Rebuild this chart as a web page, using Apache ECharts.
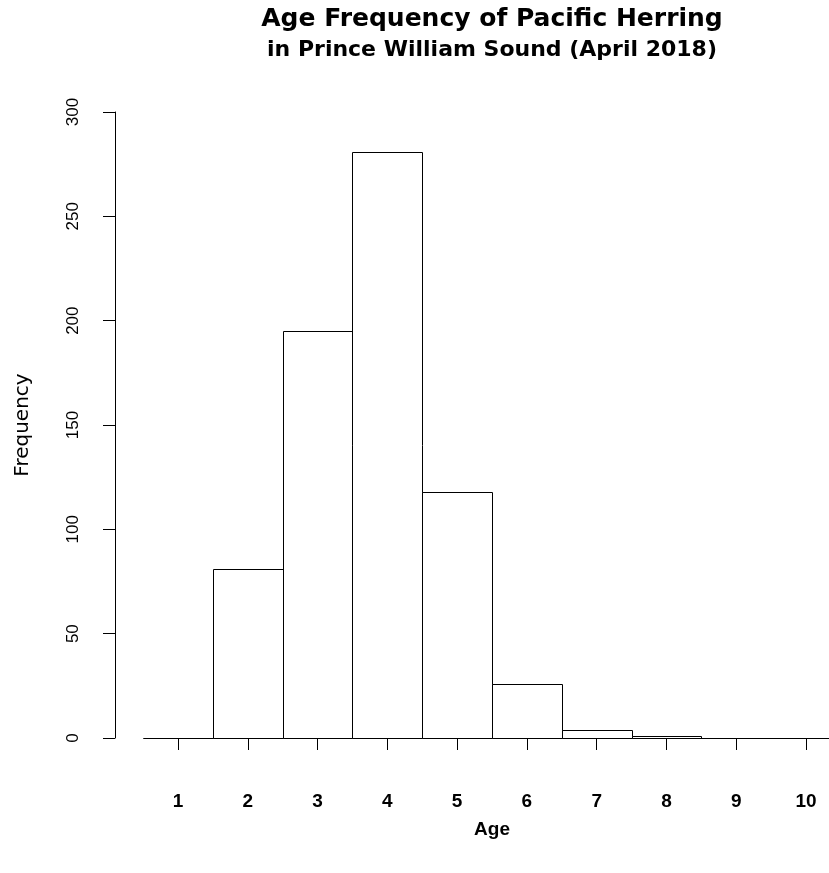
<!DOCTYPE html>
<html>
<head>
<meta charset="utf-8">
<script src="https://cdn.jsdelivr.net/npm/echarts@6/dist/echarts.min.js"></script>
<style>
  html, body { margin: 0; padding: 0; background: #fff; }
  #chart { width: 829px; height: 873px; }
</style>
</head>
<body>
<div id="chart"></div>
<script>
// histogram bins, one per age, width 1
const ages = [1, 2, 3, 4, 5, 6, 7, 8, 9, 10];
const frequency = [0, 81, 195, 281, 118, 26, 4, 1, 0, 0];
const yTicks = [0, 50, 100, 150, 200, 250, 300];

const titleLines = ["Age Frequency of Pacific Herring", "in Prince William Sound (April 2018)"];
const fontFamily = "Liberation Sans, Arial, sans-serif";
const wideFont = "DejaVu Sans, sans-serif";

const chart = echarts.init(document.getElementById("chart"));

const bins = ages.map((a, i) => [a - 0.5, a + 0.5, frequency[i]]);

// title centred over the plot region (x ~ 492)
const titleGraphics = titleLines.map((t, i) => ({
  type: "text",
  x: 492,
  y: 19 + i * 31,
  style: {
    text: t,
    align: "center",
    verticalAlign: "middle",
    fontFamily: wideFont,
    fontWeight: "bold",
    fontSize: i === 0 ? 25 : 22,
    fill: "#000",
  },
}));

const option = {
  backgroundColor: "#fff",
  animation: false,
  grid: { left: 178, width: 628, top: 112, height: 626 },
  graphic: titleGraphics,
  xAxis: {
    type: "value",
    min: 1,
    max: 10,
    interval: 1,
    offset: 25,
    splitLine: { show: false },
    axisLine: { show: true, lineStyle: { color: "#000", width: 1 } },
    axisTick: { show: true, length: 12, lineStyle: { color: "#000" } },
    axisLabel: { margin: 29, fontSize: 19, fontWeight: "bold", color: "#000", fontFamily: fontFamily },
    name: "Age",
    nameLocation: "middle",
    nameGap: 57,
    nameTextStyle: { fontSize: 19, fontWeight: "bold", color: "#000", fontFamily: fontFamily },
  },
  yAxis: {
    type: "value",
    min: yTicks[0],
    max: yTicks[yTicks.length - 1],
    interval: 50,
    offset: 63,
    splitLine: { show: false },
    axisLine: { show: true, lineStyle: { color: "#000", width: 1 } },
    axisTick: { show: true, length: 12, lineStyle: { color: "#000" } },
    axisLabel: { rotate: 90, margin: 33, fontSize: 17, color: "#000", fontFamily: fontFamily },
    name: "Frequency",
    nameLocation: "middle",
    nameGap: 82,
    nameTextStyle: { fontSize: 20, color: "#000", fontFamily: wideFont },
  },
  series: [
    {
      type: "custom",
      clip: false,
      data: bins,
      encode: { x: [0, 1], y: 2 },
      renderItem: function (params, api) {
        const p0 = api.coord([api.value(0), 0]);
        const p1 = api.coord([api.value(1), api.value(2)]);
        return {
          type: "rect",
          shape: {
            x: Math.round(p0[0]) + 0.5,
            y: Math.round(p1[1]) + 0.5,
            width: Math.round(p1[0]) - Math.round(p0[0]),
            height: Math.round(p0[1]) - Math.round(p1[1]),
          },
          style: { fill: "#fff", stroke: "#000", lineWidth: 1 },
        };
      },
    },
  ],
};

chart.setOption(option);
</script>
</body>
</html>
